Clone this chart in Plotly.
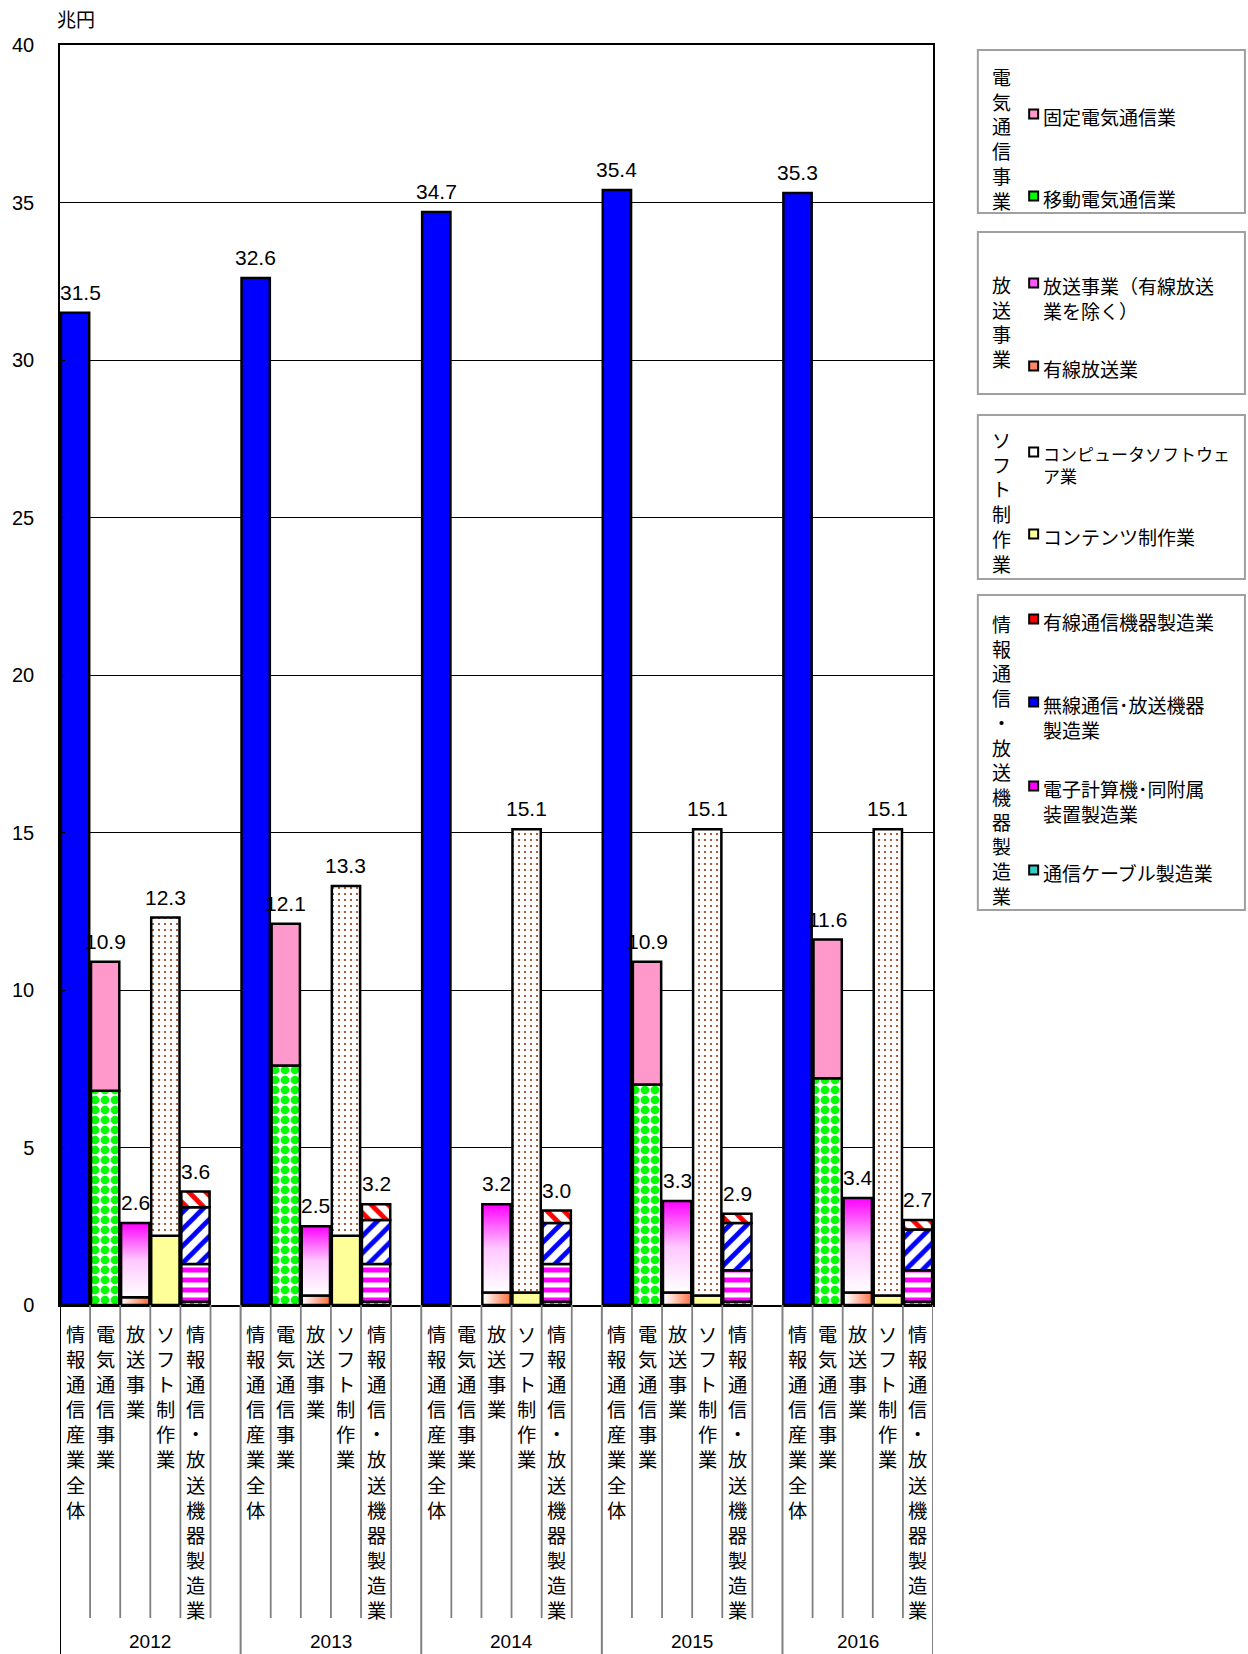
import plotly.graph_objects as go

# ---- data (兆円) ----
years = ["2012", "2013", "2014", "2015", "2016"]
categories = ["情報通信産業全体", "電気通信事業", "放送事業", "ソフト制作業", "情報通信・放送機器製造業"]

ict_total = [31.5, 32.6, 34.7, 35.4, 35.3]
telecom_mobile = [6.8, 7.6, None, 7.0, 7.2]
telecom_fixed = [4.1, 4.5, None, 3.9, 4.4]
broadcast_cable = [0.25, 0.3, 0.4, 0.4, 0.4]
broadcast_main = [2.35, 2.2, 2.8, 2.9, 3.0]
soft_contents = [2.2, 2.2, 0.4, 0.3, 0.3]
soft_software = [10.1, 11.1, 14.7, 14.8, 14.8]
equip_cable = [0.1, 0.1, 0.1, 0.1, 0.1]
equip_computer = [1.2, 1.2, 1.2, 1.0, 1.0]
equip_wireless = [1.8, 1.4, 1.3, 1.5, 1.3]
equip_wired = [0.5, 0.5, 0.4, 0.3, 0.3]

y_ticks = [0, 5, 10, 15, 20, 25, 30, 35, 40]
unit_label = "兆円"

# ---- page geometry (pixels) ----
W, H = 1248, 1654
PLOT_L, PLOT_R, PLOT_T, PLOT_B = 57, 933, 45, 1305
SLOTS_PER_YEAR = 6
N_SLOTS = SLOTS_PER_YEAR * len(years) - 1
X_RANGE = [-0.5, N_SLOTS - 0.5]
BAR_W = 0.94
EDGE_W = 2.5

JP_FONT = "Noto Sans CJK JP"
NUM_FONT = "Liberation Sans"


def px_x(p):
    return (p - PLOT_L) / (PLOT_R - PLOT_L)


def px_y(p):
    return (PLOT_B - p) / (PLOT_B - PLOT_T)


def slot(yi, ci):
    return yi * SLOTS_PER_YEAR + ci


def pat(shape, fg, size, solidity):
    return dict(shape=shape, fgcolor=fg, bgcolor="white", size=size,
                solidity=solidity, fillmode="replace")


# series of each category, bottom to top
stacks = [
    [("情報通信産業全体", ict_total, dict(kind="bar", color="#0000FF"))],
    [
        ("移動電気通信業", telecom_mobile, dict(kind="bar", color="white", pattern=pat(".", "#00FF00", 10, 0.6))),
        ("固定電気通信業", telecom_fixed, dict(kind="bar", color="#FF99CC")),
    ],
    [
        ("有線放送業", broadcast_cable,
         dict(kind="hgrad", scale=[[0, "#FFFFFF"], [1, "#FF6633"]])),
        ("放送事業（有線放送業を除く）", broadcast_main,
         dict(kind="vgrad", scale=[[0, "#FFFFFF"], [0.5, "#FFC8FF"], [1, "#FF00FF"]])),
    ],
    [
        ("コンテンツ制作業", soft_contents, dict(kind="bar", color="#FFFF99")),
        ("コンピュータソフトウェア業", soft_software,
         dict(kind="bar", color="white", pattern=pat(".", "#993300", 6, 0.1))),
    ],
    [
        ("通信ケーブル製造業", equip_cable, dict(kind="bar", color="white", pattern=pat("|", "#33AAAA", 8, 0.5))),
        ("電子計算機・同附属装置製造業", equip_computer,
         dict(kind="bar", color="white", pattern=pat("-", "#FF00FF", 10, 0.5))),
        ("無線通信・放送機器製造業", equip_wireless,
         dict(kind="bar", color="white", pattern=pat("/", "#0000FF", 12, 0.4))),
        ("有線通信機器製造業", equip_wired,
         dict(kind="bar", color="white", pattern=pat("\\", "#FF0000", 12, 0.4))),
    ],
]

fig = go.Figure()
totals = {}

for ci, series_list in enumerate(stacks):
    base = [0.0] * len(years)
    for name, values, style in series_list:
        xs, ys, bs = [], [], []
        for yi, v in enumerate(values):
            if v is None:
                continue
            xs.append(slot(yi, ci))
            ys.append(v)
            bs.append(base[yi])
        if style["kind"] == "bar":
            marker = dict(color=style["color"], line=dict(color="black", width=EDGE_W))
            if "pattern" in style:
                marker["pattern"] = style["pattern"]
            fig.add_trace(go.Bar(x=xs, y=ys, base=bs, width=BAR_W, marker=marker,
                                 name=name, showlegend=False))
        else:
            for x, v, b in zip(xs, ys, bs):
                x0, x1 = x - BAR_W / 2, x + BAR_W / 2
                if style["kind"] == "hgrad":
                    grad = dict(type="horizontal", colorscale=style["scale"], start=x0, stop=x1)
                else:
                    grad = dict(type="vertical", colorscale=style["scale"], start=b, stop=b + v)
                fig.add_trace(go.Scatter(
                    x=[x0, x1, x1, x0, x0], y=[b, b, b + v, b + v, b],
                    mode="lines", fill="toself", fillgradient=grad,
                    line=dict(color="black", width=EDGE_W),
                    name=name, showlegend=False, hoverinfo="skip"))
        for yi, v in enumerate(values):
            if v is not None:
                base[yi] += v
                totals[(yi, ci)] = base[yi]

annotations = []
shapes = []

# value labels over each column
LABEL_SIZE = 21
slot_px = (PLOT_R - PLOT_L) / (X_RANGE[1] - X_RANGE[0])
for (yi, ci), tot in totals.items():
    txt = f"{tot:.1f}"
    x = slot(yi, ci)
    est_w = LABEL_SIZE * (0.556 * (len(txt) - 1) + 0.278)
    cx = PLOT_L + (x - X_RANGE[0]) * slot_px
    ann = dict(x=x, xref="x", y=tot, yref="y", text=txt, showarrow=False,
               yanchor="bottom", yshift=7, xanchor="center",
               font=dict(family=NUM_FONT, size=LABEL_SIZE, color="black"))
    if cx - est_w / 2 < PLOT_L:
        ann.update(x=X_RANGE[0], xanchor="left", xshift=-2)
    annotations.append(ann)

# category labels, written vertically under each slot
for yi in range(len(years)):
    for ci, cat in enumerate(categories):
        annotations.append(dict(
            x=slot(yi, ci), xref="x", y=px_y(1318), yref="paper",
            text="<br>".join(cat), showarrow=False, yanchor="top", xanchor="center",
            font=dict(family=JP_FONT, size=19.3, color="black")))
    first, last = slot(yi, 0), min(slot(yi, SLOTS_PER_YEAR - 1), N_SLOTS - 1)
    annotations.append(dict(
        x=(first + last) / 2, xref="x", y=px_y(1641), yref="paper", text=years[yi],
        showarrow=False, yanchor="middle", xanchor="center",
        font=dict(family=NUM_FONT, size=19, color="black")))

# separators below the axis
for b in range(N_SLOTS + 1):
    xb = X_RANGE[0] + b
    is_group = (b % SLOTS_PER_YEAR == 0) or b == N_SLOTS
    shapes.append(dict(
        type="line", xref="x", yref="paper", x0=xb, x1=xb,
        y0=0, y1=px_y(H if is_group else 1618),
        line=dict(color="black" if b == 0 else "#808080", width=2 if is_group else 1.8)))

# unit label
annotations.append(dict(x=px_x(52), xref="paper", y=px_y(18), yref="paper", text=unit_label,
                        showarrow=False, xanchor="left", yanchor="middle",
                        font=dict(family=JP_FONT, size=19, color="black")))

# grouped legend panel: (text lines, first-line y, swatch colour, font size)
legend_groups = [
    dict(title="電気通信事業", box=(50, 213), title_y=139,
         items=[(["固定電気通信業"], 114, "#FF99CC", 19),
                (["移動電気通信業"], 196, "#00FF00", 19)]),
    dict(title="放送事業", box=(232, 394), title_y=321,
         items=[(["放送事業（有線放送", "業を除く）"], 283, "#FF55FF", 19),
                (["有線放送業"], 366, "#FF8866", 19)]),
    dict(title="ソフト制作業", box=(415, 579), title_y=501,
         items=[(["コンピュータソフトウェ", "ア業"], 452, "#FFFFFF", 17),
                (["コンテンツ制作業"], 534, "#FFFF99", 19)]),
    dict(title="情報通信・放送機器製造業", box=(595, 910), title_y=759,
         items=[(["有線通信機器製造業"], 619, "#FF0000", 19),
                (["無線通信･放送機器", "製造業"], 702, "#0000FF", 19),
                (["電子計算機･同附属", "装置製造業"], 786, "#FF00FF", 19),
                (["通信ケーブル製造業"], 870, "#33CCCC", 19)]),
]
BOX_L, BOX_R = 978, 1246
SW_CX, SW_HALF = 1034, 4.5
TEXT_X = 1041
for g in legend_groups:
    y0, y1 = g["box"]
    shapes.append(dict(type="rect", xref="paper", yref="paper",
                       x0=px_x(BOX_L), x1=px_x(BOX_R), y0=px_y(y1), y1=px_y(y0),
                       line=dict(color="#A0A0A0", width=2), fillcolor="white", layer="below"))
    annotations.append(dict(x=px_x(1002), xref="paper", y=px_y(g["title_y"]), yref="paper",
                            text="<br>".join(g["title"]), showarrow=False,
                            xanchor="center", yanchor="middle",
                            font=dict(family=JP_FONT, size=19, color="black")))
    for lines, ly, col, fsize in g["items"]:
        shapes.append(dict(type="rect", xref="paper", yref="paper",
                           x0=px_x(SW_CX - SW_HALF), x1=px_x(SW_CX + SW_HALF),
                           y0=px_y(ly + SW_HALF), y1=px_y(ly - SW_HALF),
                           line=dict(color="black", width=2), fillcolor=col))
        # anchor the block so that its first line is centred on ly
        annotations.append(dict(x=px_x(TEXT_X), xref="paper",
                                y=px_y(ly - 0.65 * 19 - 1), yref="paper",
                                text="<br>".join(lines), showarrow=False, xanchor="left",
                                yanchor="top", align="left",
                                font=dict(family=JP_FONT, size=fsize, color="black")))

fig.update_layout(
    width=W, height=H,
    margin=dict(l=PLOT_L, r=W - PLOT_R, t=PLOT_T, b=H - PLOT_B, pad=0),
    paper_bgcolor="white", plot_bgcolor="white",
    barmode="overlay", showlegend=False,
    annotations=annotations, shapes=shapes,
    xaxis=dict(range=X_RANGE, showticklabels=False, showgrid=False, zeroline=False,
               showline=True, linecolor="black", linewidth=1.5, mirror=True, ticks=""),
    yaxis=dict(range=[0, 40], tickvals=y_ticks, showgrid=True, gridcolor="black", gridwidth=1,
               zeroline=False, showline=True, linecolor="black", linewidth=1.5, mirror=True,
               ticks="inside", ticklen=5, tickcolor="black", ticklabelstandoff=20,
               tickfont=dict(family=NUM_FONT, size=20, color="black")),
)

fig.write_html("out.html")
